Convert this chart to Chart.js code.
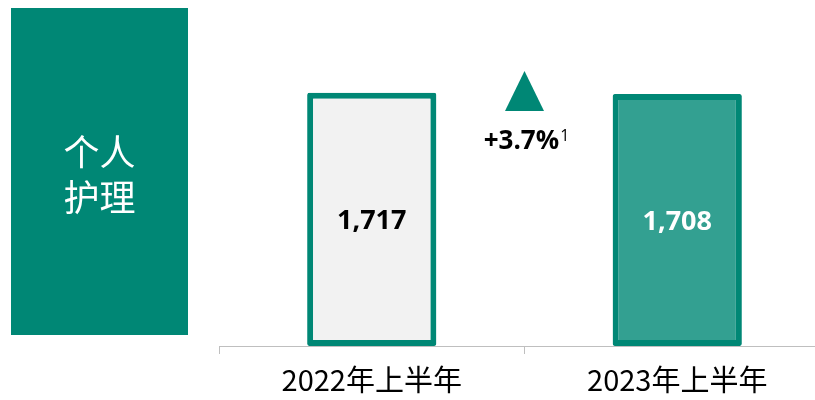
<!DOCTYPE html>
<html>
<head>
<meta charset="utf-8">
<script src="https://cdn.jsdelivr.net/npm/chart.js@4"></script>
<style>
  html, body { margin: 0; padding: 0; overflow: hidden; background: #fff; }
  #wrap { width: 830px; height: 405px; position: relative; }
</style>
</head>
<body>
<div id="wrap"><canvas id="myChart"></canvas></div>
<script>
// data
var categories = ['2022年上半年', '2023年上半年'];
var revenue = [1717, 1708];
var valueLabels = ['1,717', '1,708'];
var growthText = '+3.7%';
var growthNote = '1';
var segmentTitle = ['个人', '护理'];

var teal = '#008775';
var tealLight = '#33a091';

// side panel, growth arrow and the numbers inside the bars
var decorations = {
    id: 'decorations',
    afterDatasetsDraw: function (chart) {
        var ctx = chart.ctx;
        var meta = chart.getDatasetMeta(0);
        ctx.save();

        // green title box
        ctx.fillStyle = teal;
        ctx.fillRect(11, 8, 177, 327);
        ctx.fillStyle = '#ffffff';
        ctx.font = '36px "Noto Sans CJK SC"';
        ctx.textAlign = 'center';
        ctx.textBaseline = 'middle';
        ctx.fillText(segmentTitle[0], 99.5, 152);
        ctx.fillText(segmentTitle[1], 99.5, 197);

        // values in the bars
        ctx.font = 'bold 27px "Open Sans"';
        meta.data.forEach(function (bar, i) {
            ctx.fillStyle = i === 0 ? '#000000' : '#ffffff';
            ctx.fillText(valueLabels[i], bar.x, (bar.y + bar.base) / 2 + 2);
        });

        // growth triangle between the two bars
        var mid = (meta.data[0].x + meta.data[1].x) / 2;
        ctx.fillStyle = teal;
        ctx.beginPath();
        ctx.moveTo(mid, 71);
        ctx.lineTo(mid + 19.5, 111);
        ctx.lineTo(mid - 19.5, 111);
        ctx.closePath();
        ctx.fill();

        ctx.fillStyle = '#000000';
        ctx.font = 'bold 26px "Open Sans"';
        ctx.textAlign = 'left';
        ctx.textBaseline = 'alphabetic';
        var w = ctx.measureText(growthText).width;
        ctx.font = '16px "Open Sans"';
        var w2 = ctx.measureText(growthNote).width;
        var startX = mid - (w + w2 + 1) / 2 + 2;
        ctx.font = 'bold 26px "Open Sans"';
        ctx.fillText(growthText, startX, 149);
        ctx.font = '16px "Open Sans"';
        ctx.fillText(growthNote, startX + w + 1, 141);
        ctx.restore();
    }
};

new Chart(document.getElementById('myChart'), {
    type: 'bar',
    data: {
        labels: categories,
        datasets: [{
            data: revenue,
            backgroundColor: ['#f2f2f2', tealLight],
            borderColor: teal,
            borderWidth: 6,
            borderSkipped: false,
            borderRadius: 2,
            barPercentage: 0.423,
            categoryPercentage: 1
        }]
    },
    options: {
        responsive: true,
        maintainAspectRatio: false,
        animation: false,
        layout: { padding: { left: 219, top: 51, right: 0, bottom: 0 } },
        plugins: {
            legend: { display: false },
            tooltip: { enabled: false }
        },
        scales: {
            x: {
                grid: {
                    offset: true,
                    drawOnChartArea: false,
                    drawTicks: true,
                    tickLength: 8,
                    color: '#bfbfbf'
                },
                border: { color: '#bfbfbf', width: 1 },
                ticks: {
                    color: '#000000',
                    padding: 11,
                    font: { family: '"Noto Sans CJK SC"', size: 29, lineHeight: 1 }
                }
            },
            y: {
                display: false,
                min: 0,
                max: 2000
            }
        }
    },
    plugins: [decorations]
});
</script>
</body>
</html>
